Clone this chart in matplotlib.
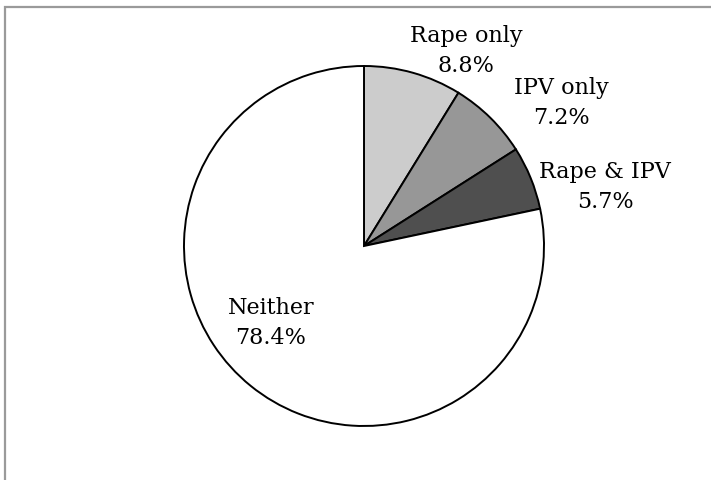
import matplotlib
matplotlib.use("Agg")
import matplotlib.pyplot as plt
from matplotlib.patches import Rectangle

categories = ["Rape only", "IPV only", "Rape & IPV", "Neither"]
values = [8.8, 7.2, 5.7, 78.4]
colors = ["#cccccc", "#979797", "#4f4f4f", "#ffffff"]

W, H = 711, 481
fig = plt.figure(figsize=(W / 100, H / 100), dpi=100)
ax = fig.add_axes([0, 0, 1, 1])

# outer chart frame (extends beyond the crop at right/bottom)
ax.add_patch(Rectangle((5, -20), W + 30, H - 8 + 20, fill=False,
                       edgecolor="#9a9a9a", linewidth=1.6))

cx, cy, r = 364, H - 247, 180
ax.pie(values, colors=colors, startangle=90, counterclock=False,
       center=(cx, cy), radius=r, frame=True,
       wedgeprops=dict(edgecolor="black", linewidth=1.4))
ax.set_xlim(0, W)
ax.set_ylim(0, H)
ax.set_aspect("equal")
ax.axis("off")

label_pos = [(466, H - 51), (561, H - 103), (605, H - 187), (271, H - 323)]
for cat, v, (x, y) in zip(categories, values, label_pos):
    ax.text(x, y, f"{cat}\n{v:.1f}%", ha="center", va="center",
            family="DejaVu Serif", fontsize=16, linespacing=1.45, color="black")

fig.savefig("out.png", dpi=100)
